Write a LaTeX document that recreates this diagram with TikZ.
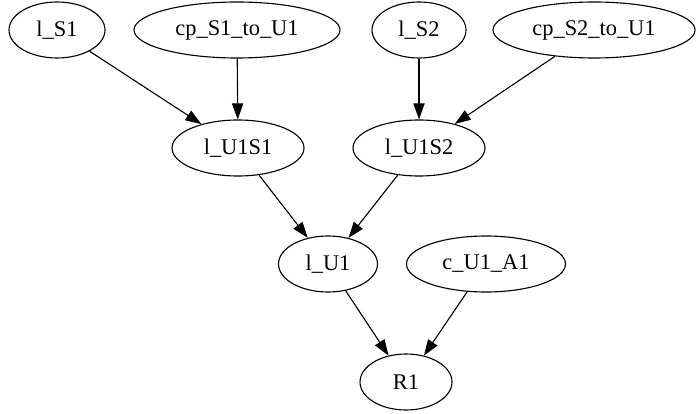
\documentclass[tikz,border=0pt]{standalone}
\usepackage{fontspec}
\setmainfont{Liberation Serif}
\usetikzlibrary{shapes.geometric,arrows.meta}
\begin{document}
\begin{tikzpicture}[x=0.625pt,y=-0.625pt,
  gnode/.style={ellipse,draw,line width=0.7pt,inner sep=0pt,minimum height=35pt,font=\fontsize{14}{16}\selectfont},
  garrow/.style={line width=0.7pt,-{Triangle[length=10pt,width=7pt]}}]
\useasboundingbox (0,0) rectangle (696,414);
\node[gnode,minimum width=96*0.625pt] (lS1) at (57,30) {l\_S1};
\node[gnode,minimum width=206*0.625pt] (cpS1) at (237,30) {cp\_S1\_to\_U1};
\node[gnode,minimum width=94*0.625pt] (lS2) at (419,30) {l\_S2};
\node[gnode,minimum width=202*0.625pt] (cpS2) at (594,30) {cp\_S2\_to\_U1};
\node[gnode,minimum width=132*0.625pt] (lU1S1) at (238,148) {l\_U1S1};
\node[gnode,minimum width=132*0.625pt] (lU1S2) at (419,148) {l\_U1S2};
\node[gnode,minimum width=99*0.625pt] (lU1) at (328,264) {l\_U1};
\node[gnode,minimum width=159*0.625pt] (cU1A1) at (486,264) {c\_U1\_A1};
\node[gnode,minimum width=92*0.625pt] (R1) at (406,382) {R1};
\draw[garrow] (lS1) -- (lU1S1);
\draw[garrow] (cpS1) -- (lU1S1);
\draw[garrow] (lS2) -- (lU1S2);
\draw[garrow] (cpS2) -- (lU1S2);
\draw[garrow] (lU1S1) -- (lU1);
\draw[garrow] (lU1S2) -- (lU1);
\draw[garrow] (lU1) -- (R1);
\draw[garrow] (cU1A1) -- (R1);
\end{tikzpicture}
\end{document}
